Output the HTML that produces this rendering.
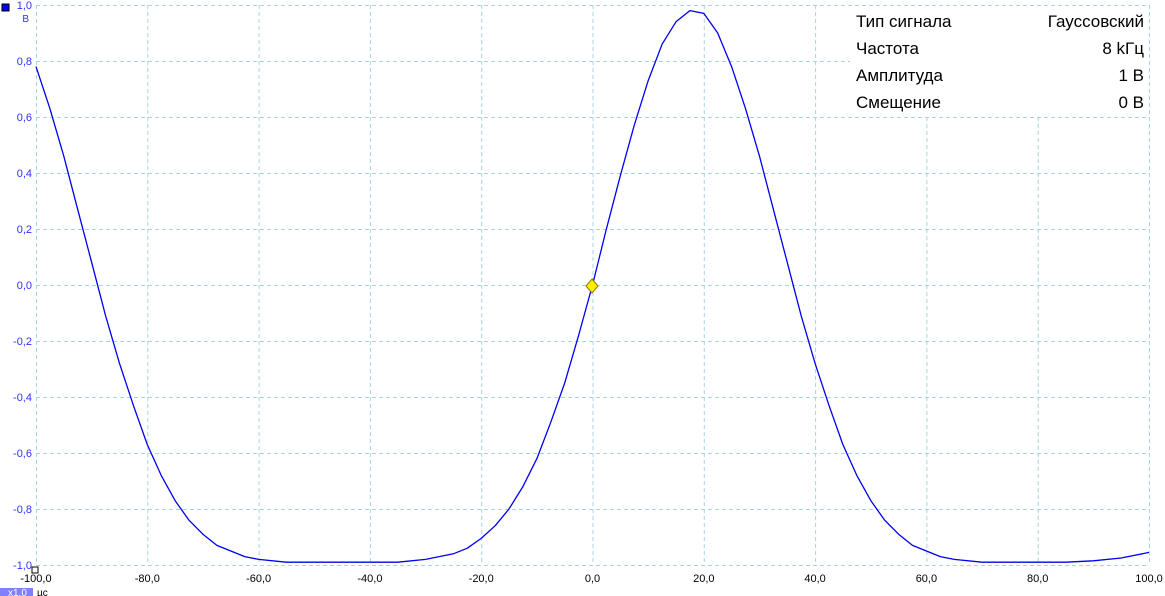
<!DOCTYPE html>
<html><head><meta charset="utf-8">
<style>
html,body{margin:0;padding:0;background:#fff;width:1165px;height:596px;overflow:hidden;font-family:"Liberation Sans",sans-serif;}
svg{display:block}
</style></head>
<body>
<svg id="chart" width="1165" height="596" xmlns="http://www.w3.org/2000/svg">
  <g id="grid"></g>
  <g id="ylabels"></g>
  <g id="xlabels"></g>
  <rect x="2" y="4" width="7" height="7" fill="#0000ff" stroke="#000" stroke-width="1"/>
  <text x="29" y="22" font-size="10" fill="#3030ff" text-anchor="end">В</text>
  <rect x="32" y="567" width="6" height="6" fill="#fff" stroke="#000" stroke-width="1"/>
  <rect x="0" y="588" width="33" height="8" fill="#8080ff"/>
  <text x="8" y="596" font-size="10" fill="#fff">x1,0</text>
  <text x="37" y="596" font-size="10" fill="#000">µс</text>
  <path id="curve" fill="none" stroke="#0000ee" stroke-width="1.3" stroke-linejoin="round"/>
  <g>
    <rect x="850" y="6" width="298" height="109" fill="#fff"/>
    <g font-size="17" fill="#000">
      <text x="856" y="27">Тип сигнала</text>
      <text x="1144" y="27" text-anchor="end">Гауссовский</text>
      <text x="856" y="54">Частота</text>
      <text x="1144" y="54" text-anchor="end">8 kГц</text>
      <text x="856" y="81">Амплитуда</text>
      <text x="1144" y="81" text-anchor="end">1 В</text>
      <text x="856" y="108">Смещение</text>
      <text x="1144" y="108" text-anchor="end">0 В</text>
    </g>
  </g>
  <path d="M592,279 L598,286 L592,293 L586,286 Z" fill="#ffee00" stroke="#8a7a00" stroke-width="1"/>
</svg>
<script>
const times = [-100,-97.5,-95,-92.5,-90,-87.5,-85,-82.5,-80,-77.5,-75,-72.5,-70,-67.5,-65,-62.5,-60,-55,-50,-45,-40,-35,-30,-25,-22.5,-20,-17.5,-15,-12.5,-10,-7.5,-5,-2.5,0,2.5,5,7.5,10,12.5,15,17.5,20,22.5,25,27.5,30,32.5,35,37.5,40,42.5,45,47.5,50,52.5,55,57.5,60,62.5,65,70,75,80,85,90,95,100];
const volts = [0.78,0.63,0.46,0.27,0.08,-0.11,-0.28,-0.43,-0.57,-0.68,-0.77,-0.84,-0.89,-0.93,-0.95,-0.97,-0.98,-0.99,-0.99,-0.99,-0.99,-0.99,-0.98,-0.96,-0.94,-0.905,-0.86,-0.80,-0.72,-0.62,-0.49,-0.35,-0.18,0.0,0.20,0.39,0.57,0.73,0.86,0.94,0.98,0.97,0.90,0.78,0.63,0.46,0.27,0.08,-0.11,-0.28,-0.43,-0.57,-0.68,-0.77,-0.84,-0.89,-0.93,-0.95,-0.97,-0.98,-0.99,-0.99,-0.99,-0.99,-0.985,-0.975,-0.955];
const xTicks = [-100,-80,-60,-40,-20,0,20,40,60,80,100];
const xTickLabels = ["-100,0","-80,0","-60,0","-40,0","-20,0","0,0","20,0","40,0","60,0","80,0","100,0"];
const yTicks = [1,0.8,0.6,0.4,0.2,0,-0.2,-0.4,-0.6,-0.8,-1];
const yTickLabels = ["1,0","0,8","0,6","0,4","0,2","0,0","-0,2","-0,4","-0,6","-0,8","-1,0"];

const X0=36, X1=1149, Y0=5, Y1=565;
const xs = t => X0 + (t+100)/200*(X1-X0);
const ys = v => Y0 + (1-v)/2*(Y1-Y0);
const NS="http://www.w3.org/2000/svg";
const grid=document.getElementById('grid');
xTicks.forEach((t,i)=>{
  const l=document.createElementNS(NS,'line');
  
  
  l.setAttribute('x1',xs(t)+0.5);l.setAttribute('x2',xs(t)+0.5);
  l.setAttribute('y1',Y0);l.setAttribute('y2',Y1);
  l.setAttribute('stroke','#a8d4e0');l.setAttribute('stroke-dasharray','4,3');
  grid.appendChild(l);
  const tx=document.createElementNS(NS,'text');
  
  
  tx.setAttribute('x',xs(t));tx.setAttribute('y',582);
  tx.setAttribute('font-size','11');tx.setAttribute('text-anchor','middle');tx.setAttribute('fill','#000');
  tx.textContent=xTickLabels[i];
  document.getElementById('xlabels').appendChild(tx);
});
yTicks.forEach((v,i)=>{
  const l=document.createElementNS(NS,'line');
  
  
  l.setAttribute('x1',X0);l.setAttribute('x2',X1);
  l.setAttribute('y1',ys(v)+0.5);l.setAttribute('y2',ys(v)+0.5);
  l.setAttribute('stroke','#a8d4e0');l.setAttribute('stroke-dasharray','4,3');
  grid.appendChild(l);
  const tx=document.createElementNS(NS,'text');
  
  
  tx.setAttribute('x',32);tx.setAttribute('y',ys(v)+4);
  tx.setAttribute('font-size','11');tx.setAttribute('text-anchor','end');tx.setAttribute('fill','#3030ff');
  tx.textContent=yTickLabels[i];
  document.getElementById('ylabels').appendChild(tx);
});
let d='';
times.forEach((t,i)=>{ d+=(i?'L':'M')+xs(t).toFixed(1)+','+ys(volts[i]).toFixed(1); });
document.getElementById('curve').setAttribute('d',d);
</script>
</body></html>
